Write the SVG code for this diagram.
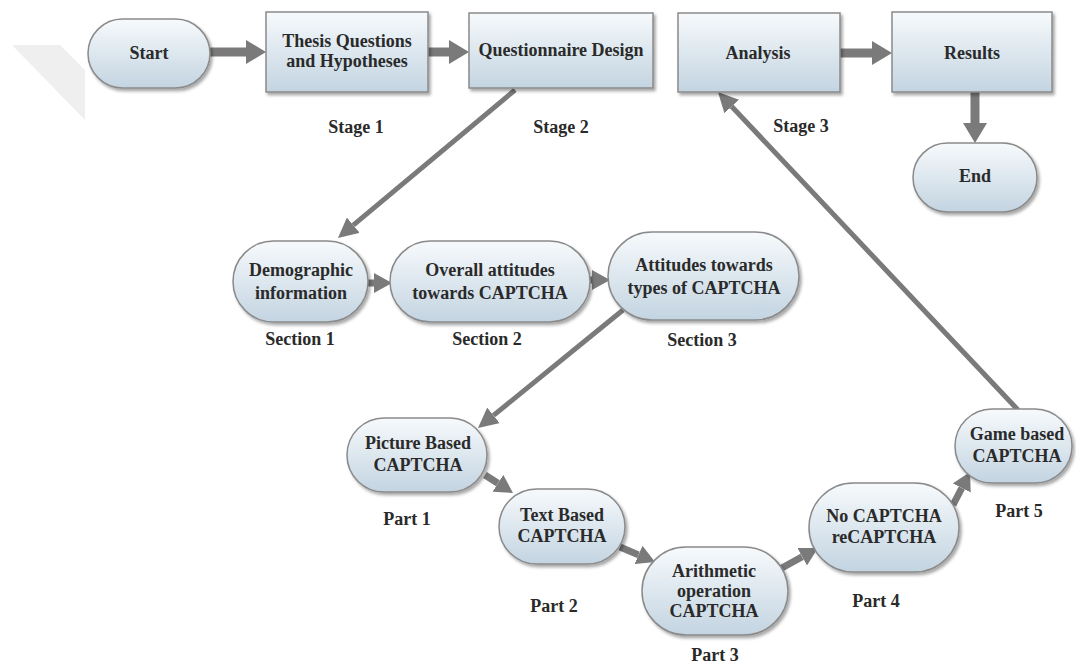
<svg xmlns="http://www.w3.org/2000/svg" width="1076" height="663" viewBox="0 0 1076 663" font-family="Liberation Serif, Times New Roman, serif">
<defs>
<linearGradient id="g" x1="0" y1="0" x2="0" y2="1">
<stop offset="0" stop-color="#f7fafc"/>
<stop offset="1" stop-color="#c3d4e1"/>
</linearGradient>
<filter id="sh" x="-10%" y="-10%" width="125%" height="130%">
<feDropShadow dx="2" dy="2.5" stdDeviation="1.5" flood-color="#000" flood-opacity="0.35"/>
</filter>
<marker id="ahL" markerUnits="userSpaceOnUse" markerWidth="20" markerHeight="24" viewBox="0 0 20 24" refX="0" refY="12" orient="auto">
<path d="M0,0 L20,12 L0,24 z" fill="#7a7a7a"/>
</marker>
<marker id="ahS" markerUnits="userSpaceOnUse" markerWidth="18" markerHeight="20" viewBox="0 0 18 20" refX="0" refY="10" orient="auto">
<path d="M0,0 L18,10 L0,20 z" fill="#7a7a7a"/>
</marker>
<marker id="ahD" markerUnits="userSpaceOnUse" markerWidth="20" markerHeight="20" viewBox="0 0 20 20" refX="0" refY="10" orient="auto">
<path d="M0,0 L20,10 L0,20 z" fill="#7a7a7a"/>
</marker>
</defs>
<style>
.n{fill:url(#g);stroke:#8a8a8a;stroke-width:1.5;filter:url(#sh)}
.t{font-weight:700;font-size:18px;fill:#2a2a2a;text-anchor:middle}
.c{stroke:#7a7a7a;fill:none}
.w{stroke-width:9}
.m{stroke-width:7}
.d{stroke-width:5}
</style>
<rect width="1076" height="663" fill="#ffffff"/>
<polygon points="12,45 60,45 85,70 85,120" fill="#efefef"/>

<g id="connectors">
<line class="c w" x1="210" y1="52" x2="246" y2="52" marker-end="url(#ahL)"/>
<line class="c w" x1="428" y1="52" x2="449" y2="52" marker-end="url(#ahL)"/>
<line class="c w" x1="840" y1="53" x2="872" y2="53" marker-end="url(#ahL)"/>
<line class="c w" x1="975" y1="92" x2="975" y2="123" marker-end="url(#ahL)"/>
<line class="c d" x1="515" y1="90" x2="353.3" y2="225.2" marker-end="url(#ahD)"/>
<line class="c m" x1="366" y1="283" x2="374" y2="283" marker-end="url(#ahS)"/>
<line class="c m" x1="588" y1="280" x2="592" y2="280" marker-end="url(#ahS)"/>
<line class="c d" x1="623" y1="310" x2="493.5" y2="415.4" marker-end="url(#ahD)"/>
<line class="c m" x1="485" y1="475" x2="497.9" y2="483.3" marker-end="url(#ahS)"/>
<line class="c m" x1="620" y1="547" x2="638.5" y2="554.9" marker-end="url(#ahS)"/>
<line class="c m" x1="780" y1="569" x2="802.2" y2="556.7" marker-end="url(#ahS)"/>
<line class="c m" x1="953" y1="505" x2="961.8" y2="488" marker-end="url(#ahS)"/>
<line class="c d" x1="1018" y1="410" x2="731.7" y2="106.5" marker-end="url(#ahD)"/>
</g>

<g id="start"><rect class="n" x="88" y="19" width="122" height="69" rx="34.5"/><text class="t" x="149" y="59">Start</text></g>
<g id="thesis"><rect class="n" x="266" y="12" width="162" height="80"/><text class="t" x="347" y="47">Thesis Questions</text><text class="t" x="347" y="67">and Hypotheses</text></g>
<g id="questionnaire"><rect class="n" x="469" y="13" width="184" height="75"/><text class="t" x="561" y="56">Questionnaire Design</text></g>
<g id="analysis"><rect class="n" x="678" y="13" width="162" height="79"/><text class="t" x="758" y="59">Analysis</text></g>
<g id="results"><rect class="n" x="892" y="12" width="160" height="80"/><text class="t" x="972" y="59">Results</text></g>
<g id="end"><rect class="n" x="913" y="143" width="124" height="69" rx="34.5"/><text class="t" x="975" y="182">End</text></g>

<g id="demographic"><rect class="n" x="233" y="241" width="135" height="81" rx="40.5"/><text class="t" x="301" y="276">Demographic</text><text class="t" x="301" y="299">information</text></g>
<g id="overall"><rect class="n" x="390" y="241" width="200" height="81" rx="40.5"/><text class="t" x="490" y="276">Overall attitudes</text><text class="t" x="490" y="299">towards CAPTCHA</text></g>
<g id="attitudes"><rect class="n" x="608" y="232" width="191" height="88" rx="44"/><text class="t" x="704" y="271">Attitudes towards</text><text class="t" x="704" y="294">types of CAPTCHA</text></g>

<g id="picture"><rect class="n" x="347" y="418" width="140" height="74" rx="37"/><text class="t" x="418" y="449">Picture Based</text><text class="t" x="418" y="471">CAPTCHA</text></g>
<g id="textbased"><rect class="n" x="499" y="489" width="126" height="75" rx="37.5"/><text class="t" x="562" y="521">Text Based</text><text class="t" x="562" y="542">CAPTCHA</text></g>
<g id="arithmetic"><rect class="n" x="642" y="547" width="146" height="88" rx="44"/><text class="t" x="714" y="577">Arithmetic</text><text class="t" x="714" y="597">operation</text><text class="t" x="714" y="617">CAPTCHA</text></g>
<g id="nocaptcha"><rect class="n" x="809" y="483" width="150" height="89" rx="44.5"/><text class="t" x="884" y="522">No CAPTCHA</text><text class="t" x="884" y="543">reCAPTCHA</text></g>
<g id="game"><rect class="n" x="955" y="409" width="117" height="74" rx="37"/><text class="t" x="1017" y="440">Game based</text><text class="t" x="1017" y="462">CAPTCHA</text></g>

<g id="labels">
<text class="t" x="356" y="133">Stage 1</text>
<text class="t" x="561" y="133">Stage 2</text>
<text class="t" x="801" y="132">Stage 3</text>
<text class="t" x="300" y="345">Section 1</text>
<text class="t" x="487" y="345">Section 2</text>
<text class="t" x="702" y="346">Section 3</text>
<text class="t" x="407" y="525">Part 1</text>
<text class="t" x="554" y="612">Part 2</text>
<text class="t" x="715" y="661">Part 3</text>
<text class="t" x="876" y="607">Part 4</text>
<text class="t" x="1019" y="517">Part 5</text>
</g>
</svg>
